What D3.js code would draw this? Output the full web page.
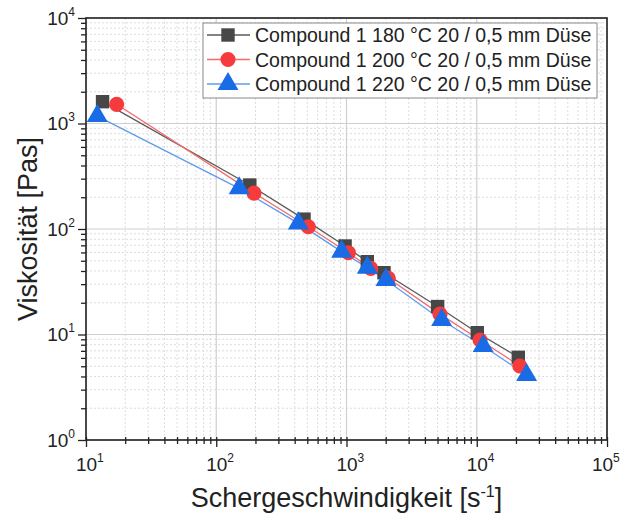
<!DOCTYPE html>
<html>
<head>
<meta charset="utf-8">
<script src="https://cdn.jsdelivr.net/npm/d3@7"></script>
<style>
  body { margin: 0; background: #fff; }
  svg { font-family: "Liberation Sans", Arial, sans-serif; }
</style>
</head>
<body>
<svg id="chart" width="621" height="518"></svg>
<script>
// Daten
const seriesNames = [
    "Compound 1 180 °C 20 / 0,5 mm Düse",
    "Compound 1 200 °C 20 / 0,5 mm Düse",
    "Compound 1 220 °C 20 / 0,5 mm Düse"
];
const shear180 = [13.4, 181, 472, 975, 1445, 1940, 5010, 10100, 20850];
const visc180  = [1610, 261, 124, 69, 49, 38.5, 18.4, 10.4, 6.08];
const shear200 = [17.2, 195, 509, 1033, 1535, 2095, 5220, 10600, 21400];
const visc200  = [1520, 219, 105, 59.6, 42.4, 34.1, 15.6, 8.87, 5.03];
const shear220 = [12.2, 150, 427, 918, 1445, 2010, 5375, 11200, 24150];
const visc220  = [1176, 243, 113, 61, 43, 32.9, 13.7, 7.78, 4.13];
const xDecades = [1, 2, 3, 4, 5];
const yDecades = [0, 1, 2, 3, 4];

const LINE_COLORS = ["#5a5a5a", "#f56a6a", "#5f9bef"];
const FILL_COLORS = ["#474747", "#f53b3b", "#1a6be6"];
const SYMBOLS = [d3.symbolSquare, d3.symbolCircle, d3.symbolTriangle];
const SYM_SIZES = [180, 180, 190];

const svg = d3.select("#chart");
const margin = { left: 86, right: 14, top: 18, bottom: 78 };
const W = 621, H = 518;
const TICK_FONT = 19;

const x = d3.scaleLog().domain([10, 1e5]).range([margin.left, W - margin.right]);
const y = d3.scaleLog().domain([1, 1e4]).range([H - margin.bottom, margin.top]);

// Nebenteilungen
const minorX = [], minorY = [];
for (let e = 1; e < 5; e++) for (let k = 2; k <= 9; k++) minorX.push(k * Math.pow(10, e));
for (let e = 0; e < 4; e++) for (let k = 2; k <= 9; k++) minorY.push(k * Math.pow(10, e));
const majorX = xDecades.map(d => Math.pow(10, d));
const majorY = yDecades.map(d => Math.pow(10, d));

// Gitter
const grid = svg.append("g");
grid.selectAll(".mx").data(minorX).join("line")
    .attr("x1", d => x(d)).attr("x2", d => x(d))
    .attr("y1", y(1)).attr("y2", y(1e4))
    .attr("stroke", "#dcdcdc").attr("stroke-dasharray", "2,2");
grid.selectAll(".my").data(minorY).join("line")
    .attr("y1", d => y(d)).attr("y2", d => y(d))
    .attr("x1", x(10)).attr("x2", x(1e5))
    .attr("stroke", "#dcdcdc").attr("stroke-dasharray", "2,2");
grid.selectAll(".Mx").data(majorX).join("line")
    .attr("x1", d => x(d)).attr("x2", d => x(d))
    .attr("y1", y(1)).attr("y2", y(1e4))
    .attr("stroke", "#cfcfcf").attr("stroke-width", 1.2);
grid.selectAll(".My").data(majorY).join("line")
    .attr("y1", d => y(d)).attr("y2", d => y(d))
    .attr("x1", x(10)).attr("x2", x(1e5))
    .attr("stroke", "#cfcfcf").attr("stroke-width", 1.2);

// Beschriftung 10^n
const fmtPow = (g, isMajor) => {
    g.selectAll(".tick text").each(function(d) {
        const t = d3.select(this);
        if (!isMajor(d)) { t.remove(); return; }
        const exp = Math.round(Math.log10(d));
        t.text("10");
        t.append("tspan").attr("dy", "-9").attr("font-size", "12px").text(exp);
    });
};

const xAxis = svg.append("g").attr("transform", `translate(0,${y(1)})`)
    .call(d3.axisBottom(x).tickValues(majorX.concat(minorX)).tickSize(0).tickPadding(18));
xAxis.select(".domain").remove();
xAxis.selectAll(".tick text").attr("font-size", TICK_FONT + "px").attr("fill", "#222")
    .attr("text-anchor", "start")
    .attr("x", d => d === 1e5 ? -0.556 * TICK_FONT - 5 : -0.556 * TICK_FONT);
fmtPow(xAxis, d => majorX.includes(d));
xAxis.selectAll(".tick").append("line")
    .attr("y1", -3).attr("y2", d => majorX.includes(d) ? 7 : 4)
    .attr("stroke", "#222").attr("stroke-width", 1.3);

const yAxis = svg.append("g").attr("transform", `translate(${x(10)},0)`)
    .call(d3.axisLeft(y).tickValues(majorY.concat(minorY)).tickSize(0).tickPadding(11));
yAxis.select(".domain").remove();
yAxis.selectAll(".tick text").attr("font-size", TICK_FONT + "px").attr("fill", "#222");
fmtPow(yAxis, d => majorY.includes(d));
yAxis.selectAll(".tick").append("line")
    .attr("x1", d => majorY.includes(d) ? -8 : -5).attr("x2", 0)
    .attr("stroke", "#222").attr("stroke-width", 1.3);

// Rahmen
svg.append("rect")
    .attr("x", x(10)).attr("y", y(1e4))
    .attr("width", x(1e5) - x(10)).attr("height", y(1) - y(1e4))
    .attr("fill", "none").attr("stroke", "#222").attr("stroke-width", 1.6);

// Achsentitel
svg.append("text")
    .attr("x", (x(10) + x(1e5)) / 2).attr("y", 507)
    .attr("text-anchor", "middle").attr("font-size", "27px").attr("fill", "#222")
    .text("Schergeschwindigkeit [s")
    .call(t => { t.append("tspan").attr("dy", "-10").attr("font-size", "16px").text("-1");
                 t.append("tspan").attr("dy", "10").text("]"); });

svg.append("text")
    .attr("transform", `translate(37,${(y(1) + y(1e4)) / 2}) rotate(-90)`)
    .attr("text-anchor", "middle").attr("font-size", "27px").attr("fill", "#222")
    .text("Viskosität [Pas]");

// Daten zeichnen
const allSeries = [
    { xs: shear180, ys: visc180 },
    { xs: shear200, ys: visc200 },
    { xs: shear220, ys: visc220 }
];
const line = d3.line().x(d => x(d[0])).y(d => y(d[1]));

allSeries.forEach((s, i) => {
    const pts = s.xs.map((v, j) => [v, s.ys[j]]);
    svg.append("path").datum(pts)
        .attr("d", line).attr("fill", "none")
        .attr("stroke", LINE_COLORS[i]).attr("stroke-width", 1.3);
});
allSeries.forEach((s, i) => {
    const pts = s.xs.map((v, j) => [v, s.ys[j]]);
    svg.append("g").selectAll("path").data(pts).join("path")
        .attr("transform", d => `translate(${x(d[0])},${y(d[1])})`)
        .attr("d", d3.symbol().type(SYMBOLS[i]).size(SYM_SIZES[i]))
        .attr("fill", FILL_COLORS[i]);
});

// Legende
const leg = svg.append("g");
leg.append("rect")
    .attr("x", 203).attr("y", 23).attr("width", 394).attr("height", 75)
    .attr("fill", "#fff").attr("stroke", "#888").attr("stroke-width", 1);
seriesNames.forEach((name, i) => {
    const ly = 35 + i * 24.5;
    leg.append("line").attr("x1", 207).attr("x2", 250).attr("y1", ly).attr("y2", ly)
        .attr("stroke", LINE_COLORS[i]).attr("stroke-width", 1.3);
    leg.append("path").attr("transform", `translate(228,${ly})`)
        .attr("d", d3.symbol().type(SYMBOLS[i]).size(SYM_SIZES[i]))
        .attr("fill", FILL_COLORS[i]);
    leg.append("text").attr("x", 255).attr("y", ly + 7)
        .attr("font-size", "19.5px").attr("fill", "#222").text(name);
});
</script>
</body>
</html>
